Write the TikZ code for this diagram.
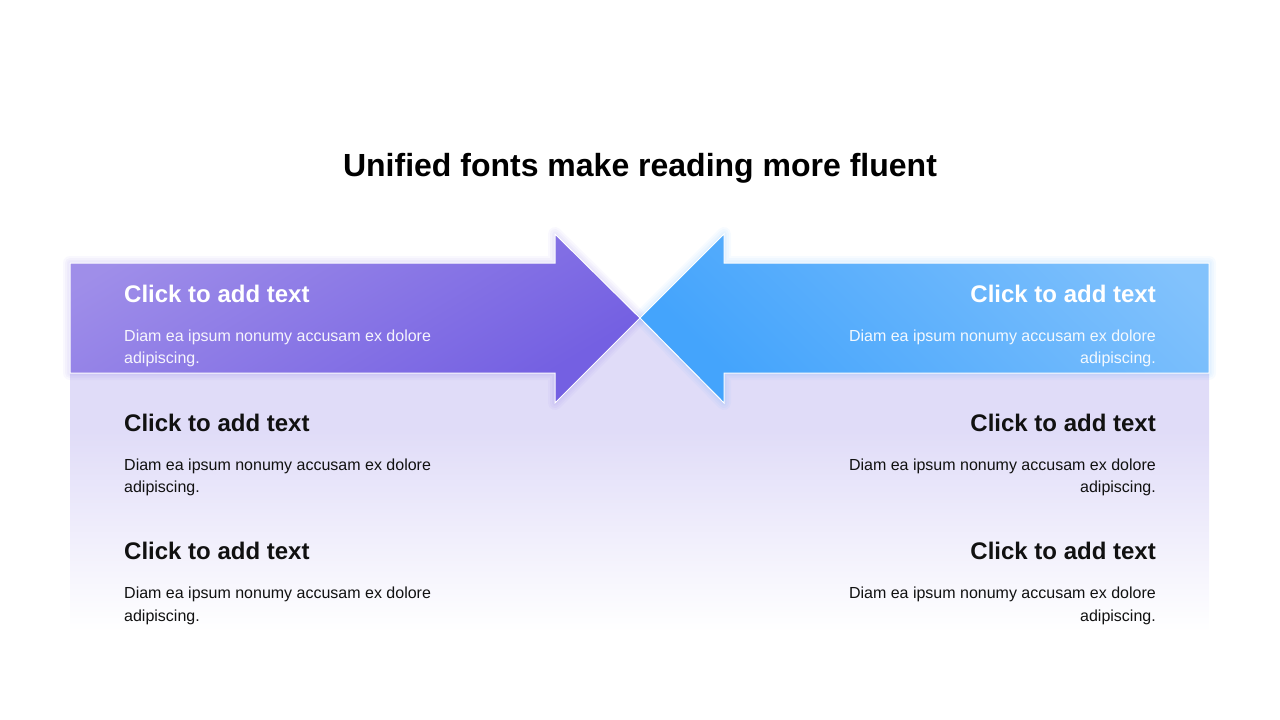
\documentclass[tikz,border=0pt]{standalone}
\usepackage{fontspec}
\setmainfont{Liberation Sans}
\definecolor{purpleA}{HTML}{9F8EE9}
\definecolor{purpleB}{HTML}{7460E2}
\definecolor{blueA}{HTML}{82C2FC}
\definecolor{blueB}{HTML}{44A4FC}
\definecolor{lav}{HTML}{E0DCF8}
\definecolor{ink}{HTML}{111111}
\pgfdeclareverticalshading{lavfade}{100bp}{color(0bp)=(white); color(25bp)=(white); color(57bp)=(lav); color(100bp)=(lav)}
\pgfdeclareverticalshading{purplegrad}{100bp}{color(0bp)=(purpleB); color(27bp)=(purpleB); color(77bp)=(purpleA); color(100bp)=(purpleA)}
\pgfdeclareverticalshading{bluegrad}{100bp}{color(0bp)=(blueB); color(26bp)=(blueB); color(79bp)=(blueA); color(100bp)=(blueA)}
\tikzset{
  titletext/.style={font=\bfseries\fontsize{32}{38}\selectfont, text=black, inner sep=0pt},
  headtext/.style={font=\bfseries\fontsize{24}{28}\selectfont, inner sep=0pt},
  bodytext/.style={font=\fontsize{16}{22.5}\selectfont, inner sep=0pt},
  arrowshape/.style={draw=white, line width=1pt, line join=miter},
  glowline/.style={draw=#1, line join=round, draw opacity=0.045},
}
\def\leftarrowpath{(70,263) -- (555,263) -- (555,234) -- (640,318) -- (555,403) -- (555,373) -- (70,373) -- cycle}
\def\rightarrowpath{(1209,263) -- (724,263) -- (724,234) -- (640,318) -- (724,403) -- (724,373) -- (1209,373) -- cycle}
\begin{document}
\begin{tikzpicture}[x=1pt,y=-1pt]
\useasboundingbox (0,0) rectangle (1280,720);
% background panel
\fill[shading=lavfade] (70,318) rectangle (1209,632);
% soft glow round the arrows
\foreach \w in {14,10,6,3} {
  \draw[glowline=purpleB, line width=\w pt] \leftarrowpath;
  \draw[glowline=blueB, line width=\w pt] \rightarrowpath;
}
% left arrow
\draw[arrowshape, shading=purplegrad, shading angle=31] \leftarrowpath;
% right arrow
\draw[arrowshape, shading=bluegrad, shading angle=-44] \rightarrowpath;
% title
\node[titletext, anchor=base] (title) at (640,176.5) {Unified fonts make reading more fluent};
% left column
\node[headtext, text=white, anchor=base west] (lh1) at (124,302) {Click to add text};
\node[bodytext, text=white, text opacity=0.92, align=left, anchor=base west] (lb1) at (124,363.5) {Diam ea ipsum nonumy accusam ex dolore\\adipiscing.};
\node[headtext, text=ink, anchor=base west] (lh2) at (124,431) {Click to add text};
\node[bodytext, text=ink, align=left, anchor=base west] (lb2) at (124,492.5) {Diam ea ipsum nonumy accusam ex dolore\\adipiscing.};
\node[headtext, text=ink, anchor=base west] (lh3) at (124,559.5) {Click to add text};
\node[bodytext, text=ink, align=left, anchor=base west] (lb3) at (124,621) {Diam ea ipsum nonumy accusam ex dolore\\adipiscing.};
% right column
\node[headtext, text=white, anchor=base east] (rh1) at (1156,302) {Click to add text};
\node[bodytext, text=white, text opacity=0.92, align=right, anchor=base east] (rb1) at (1156,363.5) {Diam ea ipsum nonumy accusam ex dolore\\adipiscing.};
\node[headtext, text=ink, anchor=base east] (rh2) at (1156,431) {Click to add text};
\node[bodytext, text=ink, align=right, anchor=base east] (rb2) at (1156,492.5) {Diam ea ipsum nonumy accusam ex dolore\\adipiscing.};
\node[headtext, text=ink, anchor=base east] (rh3) at (1156,559.5) {Click to add text};
\node[bodytext, text=ink, align=right, anchor=base east] (rb3) at (1156,621) {Diam ea ipsum nonumy accusam ex dolore\\adipiscing.};
\end{tikzpicture}
\end{document}
